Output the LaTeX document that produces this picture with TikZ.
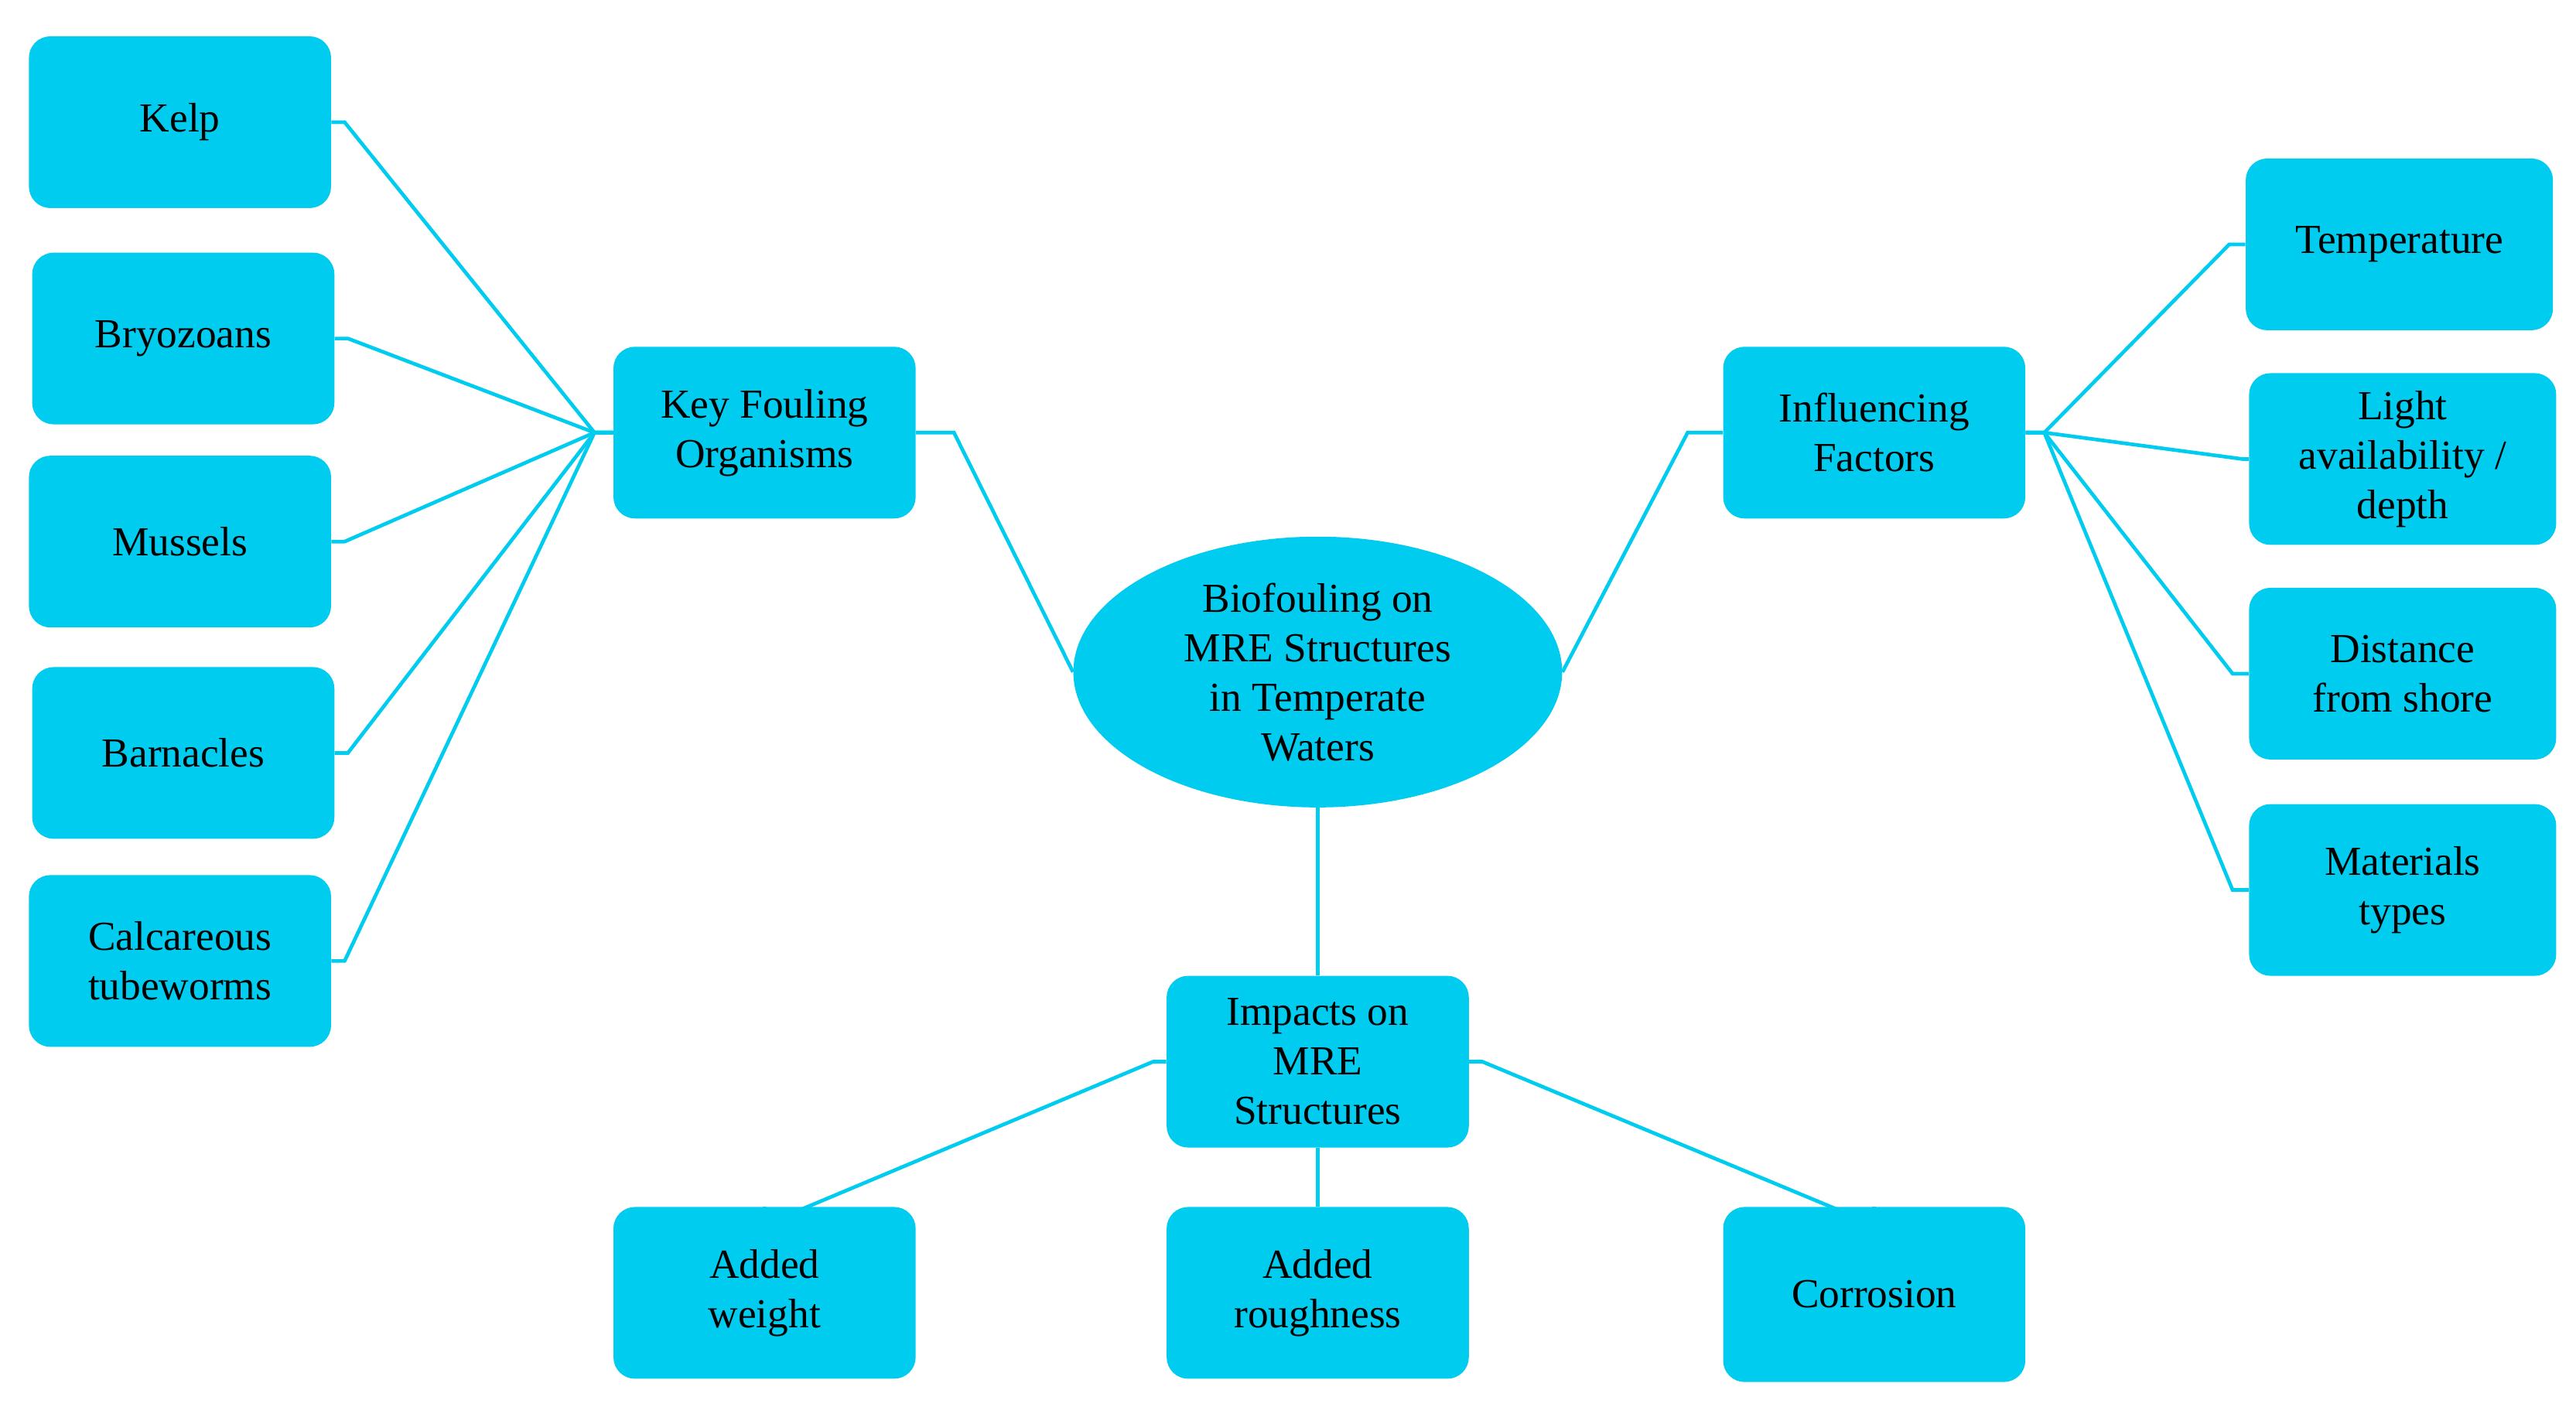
\documentclass[tikz,border=0pt]{standalone}
\usepackage{fontspec}
\setmainfont{Liberation Serif}
\usetikzlibrary{shapes.geometric}
\begin{document}
\definecolor{cy}{RGB}{0,204,240}
\begin{tikzpicture}[x=1pt,y=-1pt,
 box/.style={fill=cy,rounded corners=13pt,minimum width=183pt,minimum height=104pt,align=center,font=\fontsize{25}{30}\selectfont,inner sep=2pt},
 ln/.style={draw=cy,line width=2.2pt}]
\path[use as bounding box] (0,0) rectangle (1560,852);
\node[box] (kelp) at (109,74) {Kelp};
\node[box] (bry) at (111,205) {Bryozoans};
\node[box] (mus) at (109,328) {Mussels};
\node[box] (bar) at (111,456) {Barnacles};
\node[box] (cal) at (109,582) {Calcareous\\tubeworms};
\node[box] (key) at (463,262) {Key Fouling\\Organisms};
\node[fill=cy,ellipse,minimum width=296pt,minimum height=164pt,align=center,font=\fontsize{25}{30}\selectfont,inner sep=0pt] (c) at (798,407) {Biofouling on\\MRE Structures\\in Temperate\\Waters};
\node[box] (inf) at (1135,262) {Influencing\\Factors};
\node[box,minimum width=186pt] (tem) at (1453,148) {Temperature};
\node[box,minimum width=186pt] (lig) at (1455,278) {Light\\availability /\\depth};
\node[box,minimum width=186pt] (dis) at (1455,408) {Distance\\from shore};
\node[box,minimum width=186pt] (mat) at (1455,539) {Materials\\types};
\node[box] (imp) at (798,643) {Impacts on\\MRE\\Structures};
\node[box] (aw) at (463,783) {Added\\weight};
\node[box] (ar) at (798,783) {Added\\roughness};
\node[box,minimum height=106pt] (cor) at (1135,784) {Corrosion};
\coordinate (h1) at (360,262);
\coordinate (h2) at (1238,262);
\foreach \n in {kelp,bry,mus,bar,cal}
  \draw[ln] (\n.east) -- ++(8,0) -- (h1) -- (key.west);
\foreach \n/\xx in {tem/1350,lig/1358,dis/1352,mat/1352}
  \draw[ln] (inf.east) -- (h2) -- (\xx,0 |- \n.west) -- (\n.west);
\draw[ln] (key.east) -- ++(23,0) -- (c.west);
\draw[ln] (c.east) -- (1022,262) -- (inf.west);
\draw[ln] (c.south) -- (imp.north);
\draw[ln] (imp.south) -- (ar.north);
\draw[ln] (imp.west) -- ++(-8,0) -- ([yshift=-11pt]aw.north) -- (aw.north);
\draw[ln] (imp.east) -- ++(8,0) -- ([yshift=-11pt]cor.north) -- (cor.north);
\end{tikzpicture}
\end{document}
